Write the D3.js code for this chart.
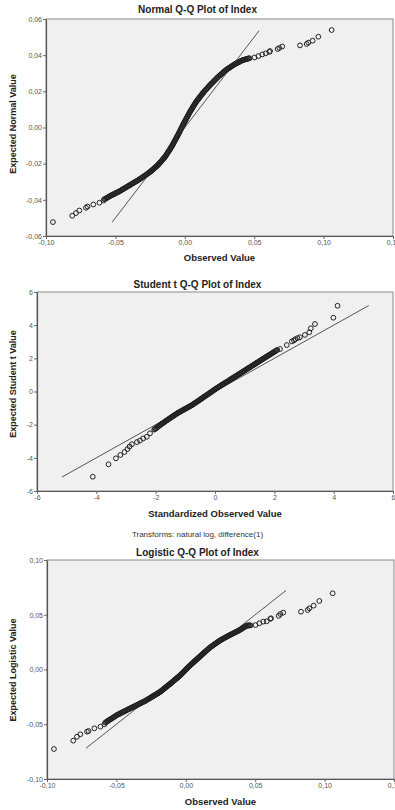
<!DOCTYPE html>
<html>
<head>
<meta charset="utf-8">
<script src="https://cdn.jsdelivr.net/npm/d3@7"></script>
<style>
  html, body { margin: 0; padding: 0; background: #fff; }
  svg { display: block; font-family: "Liberation Sans", Arial, sans-serif; }
</style>
</head>
<body>
<svg id="chart" width="395" height="810"></svg>
<script>
// Observed values (log difference of Index), shared by the Normal and Logistic plots
const observed = [
  -0.0950, -0.0811, -0.0784, -0.0760, -0.0712, -0.0701, -0.0659, -0.0615, -0.0586,
  -0.0580, -0.0574, -0.0568, -0.0562, -0.0556, -0.0550, -0.0544, -0.0538, -0.0532, -0.0526,
  -0.0520, -0.0514, -0.0508, -0.0502, -0.0496, -0.0490, -0.0484, -0.0478, -0.0472, -0.0466,
  -0.0460, -0.0454, -0.0448, -0.0442, -0.0436, -0.0430, -0.0424, -0.0418, -0.0412, -0.0406,
  -0.0400, -0.0394, -0.0388, -0.0382, -0.0376, -0.0370, -0.0364, -0.0358, -0.0352, -0.0346,
  -0.0340, -0.0334, -0.0328, -0.0322, -0.0316, -0.0310, -0.0304, -0.0298, -0.0292, -0.0286,
  -0.0280, -0.0274, -0.0268, -0.0262, -0.0256, -0.0252,
  -0.0248, -0.02445, -0.0241, -0.02375, -0.0234, -0.02305, -0.0227, -0.02235, -0.0220, -0.02165,
  -0.0213, -0.02095, -0.0206, -0.02025, -0.0199, -0.01955, -0.0192, -0.01885, -0.0185, -0.01815,
  -0.0178, -0.01745, -0.0171, -0.01675, -0.0164, -0.01605, -0.0157, -0.01535, -0.0150, -0.01465,
  -0.0143, -0.01395, -0.0136, -0.01325, -0.0129, -0.01255, -0.0122, -0.01185, -0.0115, -0.01115,
  -0.0108, -0.01045, -0.0101, -0.00975, -0.0094, -0.00905, -0.0087, -0.00835, -0.0080, -0.00765,
  -0.0073, -0.00695, -0.0066, -0.00625, -0.0059, -0.00555, -0.0052, -0.00485, -0.0045, -0.00415,
  -0.0038, -0.00345, -0.0031, -0.00275, -0.0024, -0.00205, -0.0017, -0.00135, -0.0010, -0.00065,
  -0.0003, 0.00005, 0.0004, 0.00075, 0.0011, 0.00145, 0.0018, 0.00215, 0.0025, 0.00285,
  0.0032, 0.00355, 0.0039, 0.00425, 0.0046, 0.00495, 0.0053, 0.00565, 0.0060, 0.00635,
  0.0067, 0.00705, 0.0074, 0.00775, 0.0081, 0.00845, 0.0088, 0.00915, 0.0095, 0.00985,
  0.0102, 0.01055, 0.0109, 0.01125, 0.0116, 0.01195, 0.0123, 0.01265, 0.0130, 0.01335,
  0.0137, 0.0142,
  0.0147, 0.01525, 0.0158, 0.01635, 0.0169, 0.01745, 0.0180, 0.01855, 0.0191, 0.01965,
  0.0202, 0.02075, 0.0213, 0.02185, 0.0224, 0.02295, 0.0235, 0.02405, 0.0246, 0.02515,
  0.0257, 0.02625, 0.0268, 0.02735, 0.0279, 0.02845, 0.0290, 0.02955, 0.0301, 0.03065,
  0.0312, 0.03175, 0.0323, 0.03285, 0.0334, 0.03395, 0.0345, 0.03505, 0.0356, 0.03615,
  0.0367, 0.03725, 0.0378, 0.03835, 0.0389, 0.03945, 0.0400, 0.04055, 0.0411, 0.04165,
  0.0422, 0.04275, 0.0433, 0.04385, 0.0444, 0.04495, 0.0455, 0.04605, 0.0466,
  0.0502, 0.0530, 0.0558, 0.0583, 0.0609, 0.0614, 0.0669, 0.0681, 0.0702, 0.0830,
  0.0878, 0.0890, 0.0921, 0.0962, 0.1058
];

const expectedNormal = [
  -0.0523, -0.0488, -0.0473, -0.0459, -0.0444, -0.0437, -0.0426, -0.0416, -0.0404,
  -0.0397, -0.0395, -0.0392, -0.0390, -0.0387, -0.0384, -0.0381, -0.0379, -0.0376, -0.0374,
  -0.0372, -0.0370, -0.0367, -0.0365, -0.0362, -0.0360, -0.0358, -0.0356, -0.0353, -0.0351,
  -0.0348, -0.0345, -0.0342, -0.0340, -0.0337, -0.0334, -0.0331, -0.0329, -0.0326, -0.0323,
  -0.0320, -0.0318, -0.0315, -0.0312, -0.0309, -0.0307, -0.0304, -0.0301, -0.0298, -0.0296,
  -0.0293, -0.0290, -0.0287, -0.0284, -0.0281, -0.0278, -0.0275, -0.0272, -0.0268, -0.0265,
  -0.0262, -0.0259, -0.0255, -0.0252, -0.0249, -0.0247,
  -0.0244, -0.0242, -0.0239, -0.0237, -0.0235, -0.0233, -0.0230, -0.0228, -0.0225, -0.0223,
  -0.0221, -0.0219, -0.0216, -0.0214, -0.0211, -0.0209, -0.0206, -0.0203, -0.0200, -0.0197,
  -0.0194, -0.0191, -0.0188, -0.0185, -0.0181, -0.0178, -0.0175, -0.0172, -0.0169, -0.0166,
  -0.0163, -0.0159, -0.0155, -0.0151, -0.0146, -0.0142, -0.0138, -0.0134, -0.0130, -0.0126,
  -0.0121, -0.0117, -0.0113, -0.0109, -0.0104, -0.0100, -0.0095, -0.0090, -0.0085, -0.0080,
  -0.0075, -0.0070, -0.0065, -0.0060, -0.0055, -0.0050, -0.0045, -0.0040, -0.0035, -0.0030,
  -0.0024, -0.0019, -0.0013, -0.0008, -0.0003, 0.0003, 0.0008, 0.0014, 0.0019, 0.0024,
  0.0029, 0.0034, 0.0039, 0.0044, 0.0049, 0.0054, 0.0059, 0.0064, 0.0069, 0.0074,
  0.0079, 0.0084, 0.0089, 0.0093, 0.0097, 0.0102, 0.0106, 0.0111, 0.0115, 0.0120,
  0.0124, 0.0128, 0.0132, 0.0137, 0.0141, 0.0145, 0.0148, 0.0152, 0.0155, 0.0159,
  0.0162, 0.0166, 0.0169, 0.0173, 0.0176, 0.0180, 0.0183, 0.0187, 0.0190, 0.0193,
  0.0196, 0.0201,
  0.0205, 0.0210, 0.0214, 0.0219, 0.0224, 0.0229, 0.0233, 0.0238, 0.0242, 0.0246,
  0.0250, 0.0255, 0.0259, 0.0263, 0.0267, 0.0272, 0.0276, 0.0280, 0.0284, 0.0288,
  0.0291, 0.0295, 0.0298, 0.0302, 0.0306, 0.0310, 0.0313, 0.0317, 0.0320, 0.0323,
  0.0326, 0.0329, 0.0331, 0.0334, 0.0337, 0.0340, 0.0342, 0.0345, 0.0348, 0.0351,
  0.0353, 0.0355, 0.0357, 0.0359, 0.0361, 0.0364, 0.0366, 0.0368, 0.0370, 0.0372,
  0.0374, 0.0375, 0.0376, 0.0377, 0.0378, 0.0380, 0.0381, 0.0382, 0.0383,
  0.0387, 0.0395, 0.0404, 0.0410, 0.0418, 0.0423, 0.0434, 0.0440, 0.0448, 0.0454,
  0.0462, 0.0469, 0.0480, 0.0502, 0.0539
];

const expectedLogistic = [
  -0.0726, -0.0650, -0.0614, -0.0592, -0.0568, -0.0562, -0.0537, -0.0522, -0.0500,
  -0.0485, -0.0480, -0.0475, -0.0470, -0.0465, -0.0460, -0.0455, -0.0451, -0.0446, -0.0441,
  -0.0436, -0.0431, -0.0426, -0.0421, -0.0416, -0.0412, -0.0408, -0.0405, -0.0401, -0.0397,
  -0.0393, -0.0389, -0.0385, -0.0382, -0.0378, -0.0374, -0.0370, -0.0366, -0.0362, -0.0359,
  -0.0355, -0.0351, -0.0347, -0.0344, -0.0340, -0.0336, -0.0332, -0.0329, -0.0325, -0.0321,
  -0.0317, -0.0313, -0.0309, -0.0306, -0.0302, -0.0298, -0.0294, -0.0291, -0.0287, -0.0282,
  -0.0277, -0.0273, -0.0268, -0.0264, -0.0259, -0.0256,
  -0.0253, -0.0250, -0.0247, -0.0245, -0.0242, -0.0240, -0.0237, -0.0234, -0.0231, -0.0229,
  -0.0226, -0.0223, -0.0220, -0.0218, -0.0215, -0.0213, -0.0210, -0.0207, -0.0204, -0.0201,
  -0.0197, -0.0194, -0.0190, -0.0187, -0.0183, -0.0180, -0.0176, -0.0172, -0.0168, -0.0165,
  -0.0161, -0.0158, -0.0154, -0.0151, -0.0147, -0.0144, -0.0140, -0.0137, -0.0133, -0.0130,
  -0.0126, -0.0122, -0.0118, -0.0115, -0.0111, -0.0107, -0.0103, -0.0100, -0.0096, -0.0092,
  -0.0088, -0.0085, -0.0081, -0.0077, -0.0073, -0.0070, -0.0066, -0.0062, -0.0058, -0.0054,
  -0.0050, -0.0046, -0.0041, -0.0037, -0.0032, -0.0028, -0.0023, -0.0019, -0.0014, -0.0010,
  -0.0005, 0.0000, 0.0004, 0.0009, 0.0013, 0.0018, 0.0022, 0.0027, 0.0031, 0.0035,
  0.0039, 0.0043, 0.0047, 0.0051, 0.0055, 0.0059, 0.0063, 0.0067, 0.0071, 0.0075,
  0.0079, 0.0083, 0.0087, 0.0091, 0.0095, 0.0099, 0.0103, 0.0107, 0.0111, 0.0115,
  0.0119, 0.0123, 0.0127, 0.0131, 0.0135, 0.0139, 0.0143, 0.0147, 0.0151, 0.0155,
  0.0159, 0.0165,
  0.0170, 0.0177, 0.0183, 0.0189, 0.0195, 0.0201, 0.0206, 0.0211, 0.0216, 0.0221,
  0.0226, 0.0231, 0.0236, 0.0241, 0.0245, 0.0250, 0.0255, 0.0260, 0.0265, 0.0269,
  0.0273, 0.0277, 0.0280, 0.0284, 0.0288, 0.0292, 0.0296, 0.0300, 0.0303, 0.0307,
  0.0311, 0.0315, 0.0318, 0.0322, 0.0325, 0.0329, 0.0332, 0.0336, 0.0339, 0.0343,
  0.0346, 0.0350, 0.0353, 0.0357, 0.0360, 0.0365, 0.0369, 0.0374, 0.0378, 0.0383,
  0.0387, 0.0392, 0.0396, 0.0399, 0.0402, 0.0402, 0.0402, 0.0403, 0.0403,
  0.0406, 0.0422, 0.0437, 0.0440, 0.0462, 0.0468, 0.0490, 0.0507, 0.0519, 0.0528,
  0.0543, 0.0559, 0.0583, 0.0626, 0.0696
];

// Student t plot: standardized observed values and expected t values
const standardized = [
  -4.12, -3.59, -3.34, -3.19, -3.05, -2.95, -2.88, -2.80, -2.63, -2.53, -2.42, -2.30, -2.19,
  -2.05, -2.025, -2.00, -1.975, -1.95, -1.925, -1.90, -1.875, -1.85, -1.825,
  -1.80, -1.775, -1.75, -1.725, -1.70, -1.675, -1.65, -1.625, -1.60, -1.575,
  -1.55, -1.525, -1.50, -1.475, -1.45, -1.425, -1.40, -1.375, -1.35, -1.325,
  -1.30, -1.275, -1.25, -1.225, -1.20, -1.175, -1.15, -1.125, -1.10, -1.075,
  -1.05, -1.025, -1.00, -0.975, -0.95, -0.925, -0.90, -0.875, -0.85, -0.825,
  -0.80, -0.775, -0.75, -0.725, -0.70, -0.675, -0.65, -0.625, -0.60, -0.575,
  -0.55, -0.525, -0.50, -0.475, -0.45, -0.425, -0.40, -0.375, -0.35, -0.325,
  -0.30, -0.275, -0.25, -0.225, -0.20, -0.175, -0.15, -0.125, -0.10, -0.075,
  -0.05, -0.025, 0.00, 0.025, 0.05, 0.075, 0.10, 0.125, 0.15, 0.175,
  0.20, 0.225, 0.25, 0.275, 0.30, 0.325, 0.35, 0.375, 0.40, 0.425,
  0.45, 0.475, 0.50, 0.525, 0.55, 0.575, 0.60, 0.625, 0.65, 0.675,
  0.70, 0.725, 0.75, 0.775, 0.80, 0.825, 0.85, 0.875, 0.90, 0.925,
  0.95, 0.975, 1.00, 1.025, 1.05, 1.075, 1.10, 1.125, 1.15, 1.175,
  1.20, 1.225, 1.25, 1.275, 1.30, 1.325, 1.35, 1.375, 1.40, 1.425,
  1.45, 1.475, 1.50, 1.525, 1.55, 1.575, 1.60, 1.625, 1.65, 1.675,
  1.70, 1.725, 1.75, 1.775, 1.80, 1.825, 1.85, 1.875, 1.90, 1.925,
  1.95, 1.975, 2.00, 2.025, 2.05, 2.075, 2.10,
  2.19, 2.42, 2.59, 2.66, 2.70, 2.78, 2.86, 3.03, 3.18, 3.23, 3.37, 3.99, 4.13
];

const expectedT = [
  -5.14, -4.39, -4.03, -3.83, -3.65, -3.47, -3.32, -3.18, -3.05, -2.96, -2.83, -2.73, -2.52,
  -2.30, -2.27, -2.23, -2.20, -2.16, -2.13, -2.09, -2.06, -2.02, -1.99,
  -1.96, -1.93, -1.90, -1.87, -1.83, -1.80, -1.77, -1.74, -1.71, -1.68,
  -1.65, -1.62, -1.59, -1.56, -1.53, -1.50, -1.47, -1.44, -1.41, -1.38,
  -1.35, -1.32, -1.29, -1.27, -1.24, -1.22, -1.19, -1.17, -1.14, -1.12,
  -1.09, -1.07, -1.04, -1.02, -0.99, -0.97, -0.94, -0.92, -0.89, -0.87,
  -0.84, -0.82, -0.79, -0.76, -0.73, -0.70, -0.67, -0.64, -0.61, -0.58,
  -0.55, -0.52, -0.48, -0.46, -0.43, -0.40, -0.36, -0.33, -0.30, -0.27,
  -0.24, -0.21, -0.18, -0.15, -0.11, -0.09, -0.06, -0.03, 0.01, 0.04,
  0.07, 0.10, 0.13, 0.16, 0.19, 0.22, 0.25, 0.28, 0.30, 0.33,
  0.36, 0.39, 0.42, 0.45, 0.47, 0.50, 0.53, 0.56, 0.58, 0.61,
  0.64, 0.67, 0.70, 0.73, 0.75, 0.78, 0.81, 0.84, 0.87, 0.90,
  0.92, 0.95, 0.98, 1.01, 1.04, 1.07, 1.09, 1.12, 1.15, 1.18,
  1.21, 1.24, 1.26, 1.29, 1.32, 1.35, 1.38, 1.41, 1.43, 1.46,
  1.49, 1.52, 1.55, 1.58, 1.60, 1.63, 1.66, 1.69, 1.72, 1.75,
  1.77, 1.80, 1.83, 1.86, 1.89, 1.92, 1.94, 1.97, 2.00, 2.03,
  2.06, 2.09, 2.11, 2.14, 2.17, 2.20, 2.22, 2.25, 2.28, 2.31,
  2.34, 2.37, 2.39, 2.42, 2.45, 2.48, 2.51,
  2.56, 2.80, 3.02, 3.08, 3.15, 3.22, 3.27, 3.41, 3.57, 3.81, 4.07, 4.45, 5.17
];

// reference lines (y = x) drawn between these ends
const normalLine = [-0.0524, 0.0535];
const tLine = [-5.16, 5.18];
const logisticLine = [-0.0719, 0.0722];

// tick values
const observedTicks = [-0.10, -0.05, 0.00, 0.05, 0.10, 0.15];
const normalTicks = [-0.06, -0.04, -0.02, 0.00, 0.02, 0.04, 0.06];
const tTicks = [-6, -4, -2, 0, 2, 4, 6];
const logisticTicks = [-0.10, -0.05, 0.00, 0.05, 0.10];

const locale = d3.formatLocale({ decimal: ",", thousands: ".", grouping: [3], currency: ["", ""], minus: "-" });
const fmt2 = locale.format(".2f");
const fmt0 = locale.format("d");

const svg = d3.select("#chart");

const panels = [
  {
    title: "Normal Q-Q Plot of Index", xLabel: "Observed Value", yLabel: "Expected Normal Value",
    xs: observed, ys: expectedNormal, line: normalLine,
    xDomain: [-0.10, 0.15], yDomain: [-0.06, 0.06], xTicks: observedTicks, yTicks: normalTicks, fmt: fmt2,
    left: 46, right: 393, top: 19, bottom: 236, titleY: 13, xLabelY: 260.5, yLabelY: 124
  },
  {
    title: "Student t Q-Q Plot of Index", xLabel: "Standardized Observed Value", yLabel: "Expected Student t Value",
    xs: standardized, ys: expectedT, line: tLine,
    xDomain: [-6, 6], yDomain: [-6, 6], xTicks: tTicks, yTicks: tTicks, fmt: fmt0,
    left: 37, right: 393, top: 292, bottom: 491, titleY: 287.5, xLabelY: 516.5, yLabelY: 384
  },
  {
    title: "Logistic Q-Q Plot of Index", xLabel: "Observed Value", yLabel: "Expected Logistic Value",
    xs: observed, ys: expectedLogistic, line: logisticLine,
    xDomain: [-0.10, 0.15], yDomain: [-0.10, 0.10], xTicks: observedTicks, yTicks: logisticTicks, fmt: fmt2,
    left: 47, right: 394, top: 560, bottom: 779, titleY: 556, xLabelY: 804.5, yLabelY: 670
  }
];

panels.forEach(p => {
  const x = d3.scaleLinear().domain(p.xDomain).range([p.left, p.right]);
  const y = d3.scaleLinear().domain(p.yDomain).range([p.bottom, p.top]);
  const g = svg.append("g");

  // title
  g.append("text")
    .attr("x", 197.5).attr("y", p.titleY)
    .attr("text-anchor", "middle")
    .attr("font-size", 10).attr("font-weight", "bold").attr("fill", "#222")
    .text(p.title);

  // plot background + frame
  g.append("rect")
    .attr("x", p.left).attr("y", p.top)
    .attr("width", p.right - p.left).attr("height", p.bottom - p.top)
    .attr("fill", "#f0f0f0").attr("stroke", "#8a8a8a").attr("stroke-width", 1);

  // axes
  const xAxis = g.append("g")
    .attr("transform", "translate(0," + p.bottom + ")")
    .call(d3.axisBottom(x).tickValues(p.xTicks).tickFormat(p.fmt).tickSize(3).tickSizeOuter(0).tickPadding(1));
  const yAxis = g.append("g")
    .attr("transform", "translate(" + p.left + ",0)")
    .call(d3.axisLeft(y).tickValues(p.yTicks).tickFormat(p.fmt).tickSize(3).tickSizeOuter(0).tickPadding(1));
  [xAxis, yAxis].forEach(a => {
    a.select(".domain").attr("stroke", "#555").attr("stroke-width", 1.2);
    a.selectAll(".tick line").attr("stroke", "#666");
    a.selectAll(".tick text").attr("font-size", 7).attr("fill", "#555")
      .attr("font-family", "'Liberation Sans', Arial, sans-serif");
  });

  // axis titles
  g.append("text")
    .attr("x", (p.left + p.right) / 2).attr("y", p.xLabelY)
    .attr("text-anchor", "middle")
    .attr("font-size", 9.5).attr("font-weight", "bold").attr("fill", "#222")
    .text(p.xLabel);
  g.append("text")
    .attr("transform", "translate(16," + p.yLabelY + ") rotate(-90)")
    .attr("text-anchor", "middle")
    .attr("font-size", 9).attr("font-weight", "bold").attr("fill", "#222")
    .text(p.yLabel);

  // reference line
  g.append("line")
    .attr("x1", x(p.line[0])).attr("y1", y(p.line[0]))
    .attr("x2", x(p.line[1])).attr("y2", y(p.line[1]))
    .attr("stroke", "#555").attr("stroke-width", 1);

  // points
  g.append("g").selectAll("circle")
    .data(d3.zip(p.xs, p.ys))
    .join("circle")
    .attr("cx", d => x(d[0]))
    .attr("cy", d => y(d[1]))
    .attr("r", 2.4)
    .attr("fill", "none")
    .attr("stroke", "#222")
    .attr("stroke-width", 1);
});

// transform footnote under the t plot
svg.append("text")
  .attr("x", 197.5).attr("y", 537)
  .attr("text-anchor", "middle")
  .attr("font-size", 8).attr("fill", "#333")
  .text("Transforms: natural log, difference(1)");
</script>
</body>
</html>
